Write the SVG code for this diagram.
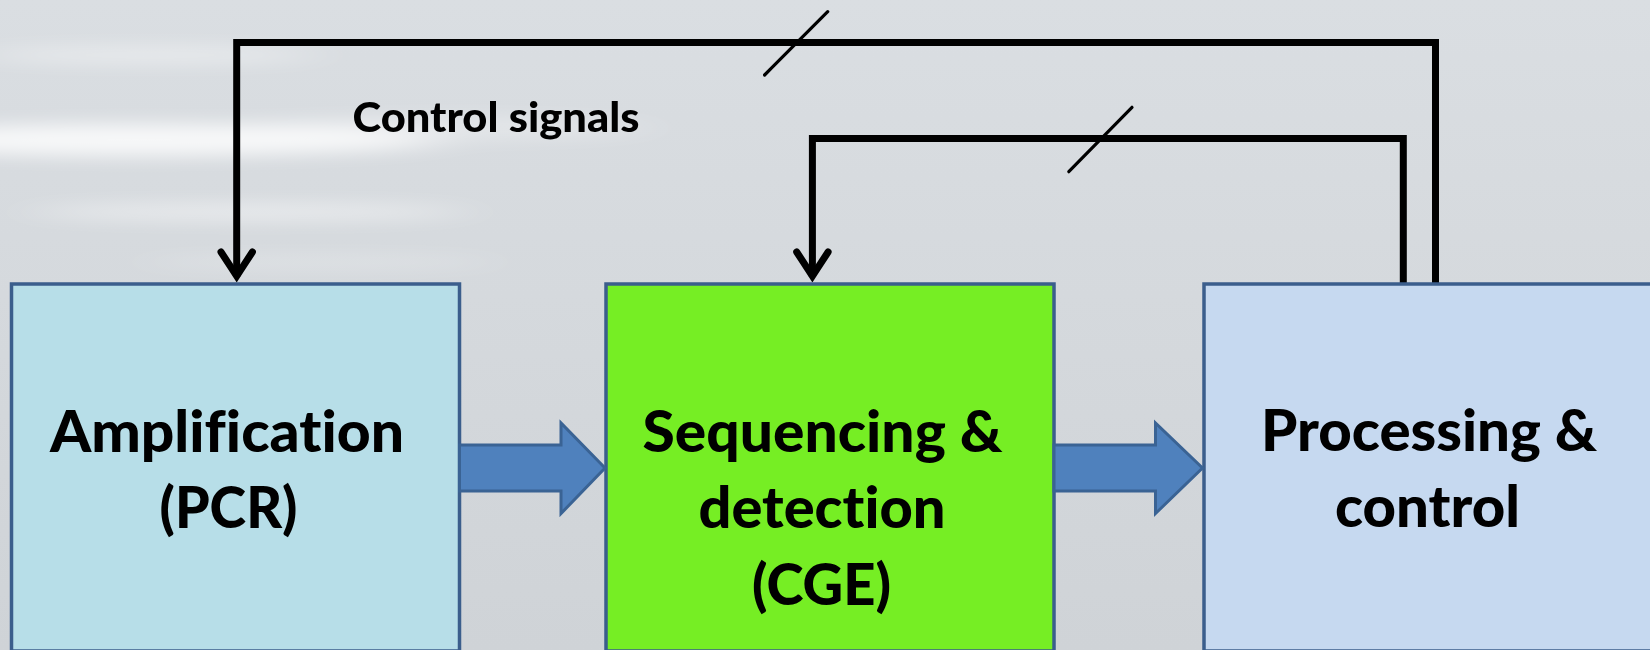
<svg xmlns="http://www.w3.org/2000/svg" width="1650" height="650" viewBox="0 0 1650 650">
  <defs>
    <linearGradient id="bg" x1="0" y1="0" x2="0" y2="1">
      <stop offset="0" stop-color="#dadee2"/>
      <stop offset="1" stop-color="#cfd3d7"/>
    </linearGradient>
    <filter id="haze" x="-30%" y="-300%" width="160%" height="700%">
      <feGaussianBlur stdDeviation="30 9"/>
    </filter>
    <style>
      .box { stroke: #3b5e8c; stroke-width: 3.5; }
      .flow { fill: #4f81bd; stroke: #3a6394; stroke-width: 3; stroke-linejoin: miter; }
      .wire { fill: none; stroke: #000; stroke-width: 7; stroke-linejoin: miter; }
      .head { fill: none; stroke: #000; stroke-width: 7; stroke-linejoin: miter; stroke-miterlimit: 10; stroke-linecap: round; }
      .tick { fill: none; stroke: #000; stroke-width: 3.2; stroke-linecap: round; }
      .lbl { font-family: Lato, "Open Sans", "Liberation Sans", sans-serif; font-weight: 900; fill: #000; text-anchor: middle; font-variant-ligatures: none; font-feature-settings: "liga" 0, "clig" 0; }
      .big { font-size: 57px; }
      .small { font-size: 41px; }
    </style>
  </defs>

  <!-- backdrop with soft light streaks on the left -->
  <rect width="1650" height="650" fill="url(#bg)"/>
  <g filter="url(#haze)" fill="#ffffff">
    <ellipse cx="140" cy="140" rx="300" ry="16" opacity="0.8"/>
    <ellipse cx="250" cy="212" rx="220" ry="9" opacity="0.45"/>
    <ellipse cx="150" cy="55" rx="170" ry="9" opacity="0.4"/>
    <ellipse cx="450" cy="128" rx="200" ry="12" opacity="0.3"/>
    <ellipse cx="320" cy="262" rx="180" ry="7" opacity="0.25"/>
  </g>

  <!-- feedback / control connectors -->
  <g id="connectors">
    <path class="wire" d="M1435.5,284 V42.5 H236.7 V277"/>
    <path class="head" d="M221,252 L236.7,276 L252.4,252"/>
    <path class="wire" d="M1403.3,284 V138.5 H812.4 V277"/>
    <path class="head" d="M796.7,252 L812.4,276 L828.1,252"/>
    <path class="tick" d="M764.6,75 L827.7,11.7"/>
    <path class="tick" d="M1068.8,171.7 L1132,107.3"/>
    <text class="lbl small" x="496" y="132" textLength="287" lengthAdjust="spacingAndGlyphs">Control signals</text>
  </g>

  <g id="amplification">
    <rect class="box" x="11.5" y="284" width="448" height="367" fill="#b7dee8"/>
    <text class="lbl big" x="227" y="452" textLength="354" lengthAdjust="spacingAndGlyphs">Amplification</text>
    <text class="lbl big" x="228.5" y="528" textLength="138" lengthAdjust="spacingAndGlyphs">(PCR)</text>
  </g>

  <g id="sequencing">
    <rect class="box" x="606" y="284" width="448" height="367" fill="#76ee24"/>
    <text class="lbl big" x="822.5" y="452" textLength="360" lengthAdjust="spacingAndGlyphs">Sequencing &amp;</text>
    <text class="lbl big" x="822" y="528" textLength="247" lengthAdjust="spacingAndGlyphs">detection</text>
    <text class="lbl big" x="821.5" y="605" textLength="139" lengthAdjust="spacingAndGlyphs">(CGE)</text>
  </g>

  <g id="processing">
    <rect class="box" x="1204" y="284" width="450" height="367" fill="#c6d9f0"/>
    <text class="lbl big" x="1429" y="451" textLength="336" lengthAdjust="spacingAndGlyphs">Processing &amp;</text>
    <text class="lbl big" x="1427.5" y="527" textLength="185" lengthAdjust="spacingAndGlyphs">control</text>
  </g>

  <!-- data-flow block arrows -->
  <g id="flow-arrows">
    <polygon class="flow" points="459.5,445 561,445 561,423 605,468 561,513.5 561,491 459.5,491"/>
    <polygon class="flow" points="1054,445 1155.5,445 1155.5,423 1202.5,468 1155.5,513.5 1155.5,491 1054,491"/>
  </g>
</svg>
